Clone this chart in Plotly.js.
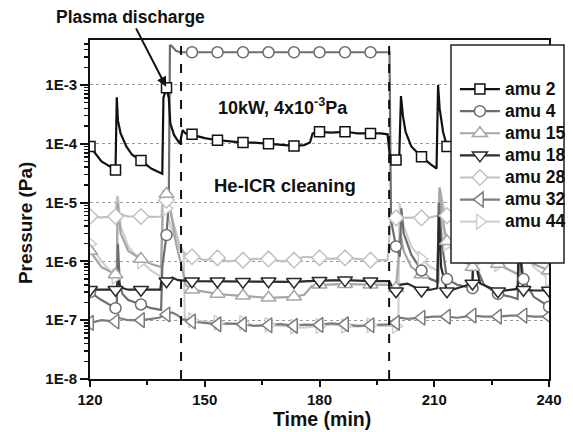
<!DOCTYPE html>
<html><head><meta charset="utf-8">
<script src="https://cdn.plot.ly/plotly-3.0.1.min.js"></script>
<style>html,body{margin:0;padding:0;background:#fff}</style>
</head><body><div id="chart" style="width:573px;height:432px"></div>
<script>
// ---------------- data ----------------
const markerTimes = [120, 126.67, 133.33, 140, 146.67, 153.33, 160, 166.67, 173.33, 180, 186.67, 193.33, 200, 206.67, 213.33, 220, 226.67, 233.33, 240];

const amu2Time = [120, 123, 126.67, 127.0, 127.3, 128, 129.5, 131, 133.33, 136, 138.9, 139.2, 140, 140.6, 141, 142, 143.5, 144.2, 145, 146.67, 148, 150, 153.33, 156, 160, 163, 166.67, 170, 173.33, 176, 177.5, 178.2, 180, 183, 186.67, 190, 193.33, 196, 197.8, 198.3, 199, 200, 200.8, 201.3, 201.8, 202.5, 204, 206.67, 209, 210.6, 211, 211.4, 212.3, 213.33, 216, 219.8, 220, 220.3, 220.9, 222, 226.67, 231.8, 232.2, 232.8, 233.33, 236, 240];
const amu2Pressure = [9e-5, 5e-5, 3.6e-5, 6.2e-4, 2.5e-4, 1.5e-4, 9e-5, 6.5e-5, 5.2e-5, 3.8e-5, 3.1e-5, 6e-4, 9e-4, 6e-4, 2.2e-4, 1.4e-4, 1e-4, 1.7e-4, 1.5e-4, 1.45e-4, 1.35e-4, 1.25e-4, 1.15e-4, 1.1e-4, 1.05e-4, 1.05e-4, 1e-4, 9.5e-5, 9.2e-5, 9.5e-5, 1.05e-4, 1.5e-4, 1.6e-4, 1.55e-4, 1.6e-4, 1.5e-4, 1.5e-4, 1.5e-4, 1.45e-4, 7e-5, 4.5e-5, 5.3e-5, 4.5e-5, 6.5e-4, 3e-4, 1.6e-4, 9e-5, 6e-5, 4.5e-5, 3.8e-5, 1e-3, 4e-4, 1.6e-4, 9e-5, 6e-5, 4e-5, 4e-5, 6e-4, 2e-4, 1e-4, 5e-5, 4e-5, 6e-4, 2e-4, 1.2e-4, 7e-5, 5e-5];

const amu4Time = [120, 123, 126.67, 127.0, 127.3, 127.8, 128.5, 130, 133.33, 136, 138.6, 138.9, 140, 140.6, 140.9, 141.5, 142.5, 143.5, 146.67, 153.33, 160, 166.67, 173.33, 180, 186.67, 193.33, 198.3, 198.7, 200, 201, 201.4, 202, 204, 206.67, 209, 210.8, 211.2, 212, 213.33, 216, 220, 220.3, 221, 223, 226.67, 230, 231.8, 232.2, 233.33, 236, 240];
const amu4Pressure = [3e-7, 2.2e-7, 1.6e-7, 1.6e-7, 2e-6, 4e-7, 2.8e-7, 2.2e-7, 1.85e-7, 1.6e-7, 1.5e-7, 8e-7, 2.8e-6, 1e-5, 4.8e-3, 4.5e-3, 3.8e-3,
  3.6e-3, 3.6e-3, 3.6e-3, 3.6e-3, 3.6e-3, 3.6e-3, 3.6e-3, 3.6e-3, 3.6e-3, 3.6e-3,
  5e-6, 1.8e-6, 1.2e-6, 8e-6, 3e-6, 1.3e-6, 7e-7, 5e-7, 4.5e-7, 1e-5, 2e-6, 5e-7, 4e-7, 3.5e-7, 3e-6, 8e-7, 4e-7, 2.8e-7, 2.5e-7, 2.3e-7, 2e-6, 5e-7, 2.5e-7, 1.7e-7];

const amu15Time = [120, 123, 126.67, 127.0, 127.2, 128, 130, 133.33, 136, 138.6, 139.2, 140, 141, 142.5, 144, 145, 146.67, 150, 153.33, 156, 160, 166.67, 173.33, 176, 178, 180, 186.67, 193.33, 198.3, 200, 201.2, 202, 204, 206.67, 209, 211.1, 211.4, 212.5, 213.33, 216, 220, 220.3, 221.5, 226.67, 232, 232.3, 233.33, 236, 240];
const amu15Pressure = [1.5e-6, 8e-7, 6e-7, 6e-7, 1e-5, 3e-6, 1.5e-6, 1.1e-6, 9e-7, 8e-7, 1.5e-5, 1.4e-5, 8e-6, 2e-6, 8e-7, 4e-7, 3.3e-7, 3e-7, 2.8e-7, 2.7e-7, 2.6e-7, 2.4e-7, 2.5e-7, 2.7e-7, 3.8e-7, 4e-7, 4.1e-7, 4e-7, 4e-7, 3.5e-7, 3e-6, 1.5e-6, 8e-7, 6e-7, 5e-7, 4.5e-7, 1.8e-5, 4e-6, 2.2e-6, 1.2e-6, 8e-7, 6e-6, 2e-6, 9e-7, 6e-7, 5e-6, 1.8e-6, 9e-7, 7e-7];

const amu18Time = [120, 123, 126.67, 127.0, 127.3, 128, 130, 133.33, 136, 138.4, 138.6, 140, 141.5, 143, 146.67, 150, 153.33, 160, 166.67, 173.33, 180, 183, 186.67, 193.33, 198.2, 199, 200, 201, 203, 206.67, 209, 210.8, 211.2, 211.8, 213.33, 216, 220, 220.4, 221, 222, 226.67, 231.8, 232.2, 232.8, 233.33, 236, 240];
const amu18Pressure = [3.3e-7, 3.3e-7, 3.3e-7, 3.4e-7, 5e-7, 3.6e-7, 3.3e-7, 3.3e-7, 3.3e-7, 3.3e-7, 4.4e-7, 4.6e-7, 5.3e-7, 4.8e-7, 4.6e-7, 4.6e-7, 4.6e-7, 4.5e-7, 4.6e-7, 4.5e-7, 4.7e-7, 4.8e-7, 4.8e-7, 4.6e-7, 4.6e-7, 3.7e-7, 3.1e-7, 4e-7, 4.2e-7, 3.2e-7, 3.3e-7, 3.5e-7, 6e-6, 8e-7, 3.1e-7, 3.5e-7, 4.2e-7, 5e-6, 8e-7, 4.2e-7, 3.1e-7, 3.4e-7, 4e-6, 7e-7, 3.3e-7, 3.2e-7, 3.2e-7];

const amu28Time = [120, 123, 126.67, 127.1, 127.6, 130, 133.33, 136, 138.7, 139.1, 140, 141, 142, 143.5, 145, 146.67, 150, 153.33, 156, 160, 163, 166.67, 170, 173.33, 176, 180, 183, 186.67, 190, 193.33, 197.8, 198.6, 200, 203, 206.67, 209, 211, 211.4, 212.5, 213.33, 216, 220, 220.3, 222, 226.67, 232, 232.3, 233.33, 236, 240];
const amu28Pressure = [5.8e-6, 5.6e-6, 5.8e-6, 1.3e-5, 6.5e-6, 5.8e-6, 5.8e-6, 5.7e-6, 5.8e-6, 1.6e-5, 1.1e-5, 7e-6, 4e-6, 1.8e-6, 1.3e-6, 1.2e-6, 1.05e-6, 1.15e-6, 1e-6, 1.05e-6, 1.1e-6, 1.1e-6, 1e-6, 1.05e-6, 1.2e-6, 1.15e-6, 1.1e-6, 1.15e-6, 1.1e-6, 1.05e-6, 1.05e-6, 5e-6, 5.5e-6, 5.5e-6, 5.5e-6, 5.6e-6, 6e-6, 1.8e-5, 8e-6, 6e-6, 4e-6, 2.5e-6, 8e-6, 3e-6, 1.8e-6, 1.4e-6, 5e-6, 2.2e-6, 1.6e-6, 1.2e-6];

const amu32Time = [120, 123, 126.67, 127.2, 130, 133.33, 136, 138, 140, 141.5, 143, 144, 146.67, 150, 153.33, 156, 160, 163, 166.67, 170, 173.33, 176, 180, 183, 186.67, 190, 193.33, 198, 200, 201, 203, 206.67, 210, 213.33, 216, 220, 223, 226.67, 230, 233.33, 236, 240];
const amu32Pressure = [9e-8, 1e-7, 9.5e-8, 1.1e-7, 1e-7, 1e-7, 1.05e-7, 1.1e-7, 1.25e-7, 1.35e-7, 1.2e-7, 1.05e-7, 9.5e-8, 9e-8, 8.5e-8, 8.8e-8, 8.5e-8, 8e-8, 8.2e-8, 8.6e-8, 8e-8, 8.4e-8, 8.3e-8, 8.8e-8, 8.5e-8, 8e-8, 8.2e-8, 8.5e-8, 9e-8, 1.1e-7, 1.05e-7, 1.1e-7, 1.15e-7, 1.15e-7, 1.1e-7, 1.2e-7, 1.15e-7, 1.15e-7, 1.2e-7, 1.2e-7, 1.15e-7, 1.15e-7];

const amu44Time = [120, 123, 126.67, 127.0, 127.3, 128, 130, 133.33, 136, 138.5, 139, 140, 141.5, 143.5, 144.5, 144.8, 146.67, 150, 153.33, 156, 160, 163, 166.67, 170, 173.33, 176, 180, 183, 186.67, 190, 193.33, 196, 200, 200.6, 200.9, 202, 204, 206.67, 209, 210.9, 211.3, 212.5, 213.33, 216, 220, 220.3, 221.5, 226.67, 231.8, 232.3, 233.33, 236, 240];
const amu44Pressure = [2e-6, 1e-6, 5.5e-7, 5e-7, 1.3e-5, 4e-6, 1.8e-6, 1e-6, 7e-7, 5.5e-7, 1.2e-5, 8e-6, 3e-6, 1.6e-6, 1.4e-6, 1.1e-7, 1e-7, 9.5e-8, 9e-8, 8.5e-8, 9e-8, 8e-8, 8.3e-8, 8e-8, 7.8e-8, 7.5e-8, 8e-8, 8.5e-8, 8e-8, 7.8e-8, 8.2e-8, 8e-8, 8e-8, 8e-8, 1e-5, 4e-6, 1.8e-6, 1.1e-6, 8e-7, 7e-7, 1.2e-5, 3e-6, 2e-6, 1.2e-6, 9e-7, 5e-6, 1.8e-6, 9e-7, 6e-7, 5e-6, 1.5e-6, 8e-7, 5e-7];

const seriesNames = ['amu 2', 'amu 4', 'amu 15', 'amu 18', 'amu 28', 'amu 32', 'amu 44'];
const xTickValues = [120, 150, 180, 210, 240];
const yTickValues = [1e-8, 1e-7, 1e-6, 1e-5, 1e-4, 1e-3];
const yTickLabels = ['1E-8', '1E-7', '1E-6', '1E-5', '1E-4', '1E-3'];
const phaseBounds = [143.8, 198.2];   // start / end of He-ICR cleaning (min)
const dischargeTime = 139.9, dischargePressure = 9.3e-4;

// ---------------- styling ----------------
const seriesData = {
  'amu 2': [amu2Time, amu2Pressure], 'amu 4': [amu4Time, amu4Pressure],
  'amu 15': [amu15Time, amu15Pressure], 'amu 18': [amu18Time, amu18Pressure],
  'amu 28': [amu28Time, amu28Pressure], 'amu 32': [amu32Time, amu32Pressure],
  'amu 44': [amu44Time, amu44Pressure]
};
const styles = {
  'amu 2':  {color: '#111111', symbol: 'square',         size: 10, width: 2.2},
  'amu 4':  {color: '#6e6e6e', symbol: 'circle',         size: 11, width: 2.2},
  'amu 15': {color: '#a6a6a6', symbol: 'triangle-up',    size: 13, width: 2.2},
  'amu 18': {color: '#2a2a2a', symbol: 'triangle-down',  size: 13, width: 2.2},
  'amu 28': {color: '#c2c2c2', symbol: 'diamond',        size: 12, width: 2.2},
  'amu 32': {color: '#7c7c7c', symbol: 'triangle-left',  size: 13, width: 2.2},
  'amu 44': {color: '#d0d0d0', symbol: 'triangle-right', size: 13, width: 2.2}
};
const drawOrder = ['amu 44', 'amu 28', 'amu 15', 'amu 32', 'amu 4', 'amu 18', 'amu 2'];

const lineTraces = [], markerTraces = [];
drawOrder.forEach(name => {
  const [t, p] = seriesData[name];
  const st = styles[name];
  lineTraces.push({
    x: t, y: p, mode: 'lines', type: 'scatter', showlegend: false,
    line: {color: st.color, width: st.width}, hoverinfo: 'skip'
  });
  const mx = [], my = [];
  markerTimes.forEach(m => {
    const i = t.findIndex(v => Math.abs(v - m) < 0.02);
    if (i >= 0) { mx.push(t[i], t[i]); my.push(p[i], null); }
  });
  markerTraces.push({
    x: mx, y: my, mode: 'lines+markers', type: 'scatter',
    name: '<span style="font-size:17.5px">' + name + '</span>',
    legendrank: seriesNames.indexOf(name) + 1, connectgaps: false,
    line: {color: st.color, width: st.width},
    marker: {symbol: st.symbol, size: st.size, color: '#ffffff', line: {color: st.color, width: 1.5}}
  });
});

const yMinor = [];
for (let d = -8; d <= -3; d++) for (let k = 2; k <= 9; k++) yMinor.push(k * Math.pow(10, d));
const xMinor = [];
for (let i = 0; i < xTickValues.length - 1; i++) xMinor.push((xTickValues[i] + xTickValues[i + 1]) / 2);

const boldFont = (size) => ({family: 'Liberation Sans, Arial, sans-serif', size: size, color: '#111', weight: 'bold'});

const layout = {
  width: 573, height: 432,
  margin: {l: 90, r: 24, t: 40, b: 53, autoexpand: false},
  paper_bgcolor: '#ffffff', plot_bgcolor: '#ffffff',
  font: {family: 'Liberation Sans, Arial, sans-serif', color: '#111'},
  showlegend: true,
  xaxis: {
    range: [120, 240], tickmode: 'array', tickvals: xTickValues,
    ticks: 'outside', ticklen: 6, tickwidth: 2, tickcolor: '#111',
    showline: true, linewidth: 2, linecolor: '#111', mirror: true,
    showgrid: false, zeroline: false, tickfont: boldFont(15),
    minor: {tickvals: xMinor, ticks: 'outside', ticklen: 4, tickwidth: 2, tickcolor: '#111', showgrid: false}
  },
  yaxis: {
    type: 'log', range: [-8, -2.235], tickmode: 'array', tickvals: yTickValues, ticktext: yTickLabels,
    ticks: 'outside', ticklen: 8, tickwidth: 2, tickcolor: '#111',
    showline: true, linewidth: 2, linecolor: '#111', mirror: true,
    showgrid: true, gridcolor: '#9a9a9a', griddash: 'dot', gridwidth: 1, zeroline: false,
    tickfont: boldFont(15),
    minor: {tickvals: yMinor, ticks: 'outside', ticklen: 4, tickwidth: 1.5, tickcolor: '#111', showgrid: false}
  },
  legend: {
    x: 0.795, y: 0.9027, xanchor: 'left', yanchor: 'top',
    bgcolor: 'rgba(0,0,0,0)', borderwidth: 0, itemwidth: 40,
    font: boldFont(14.7), traceorder: 'normal'
  },
  shapes: [
    {type: 'line', xref: 'x', yref: 'paper', x0: phaseBounds[0], x1: phaseBounds[0], y0: 0, y1: 1,
     line: {color: '#111', width: 2, dash: 'dash'}},
    {type: 'line', xref: 'x', yref: 'paper', x0: phaseBounds[1], x1: phaseBounds[1], y0: 0, y1: 1,
     line: {color: '#111', width: 2, dash: 'dash'}},
    {type: 'rect', xref: 'paper', yref: 'paper', x0: 0.7865, x1: 1.0327, y0: 0.342, y1: 0.985,
     fillcolor: '#ffffff', line: {color: '#222', width: 1.5}, layer: 'above'}
  ],
  annotations: [
    {text: 'Plasma discharge', xref: 'x', yref: 'y', x: dischargeTime, y: Math.log10(dischargePressure),
     showarrow: true, ax: -36, ay: -70, arrowhead: 2, arrowsize: 1, arrowwidth: 2, arrowcolor: '#111',
     font: boldFont(17.5)},
    {text: '10kW, 4x10<sup>-3</sup>Pa', xref: 'paper', yref: 'paper', x: 0.42, y: 0.843,
     showarrow: false, font: boldFont(18)},
    {text: 'He-ICR cleaning', xref: 'paper', yref: 'paper', x: 0.425, y: 0.572,
     showarrow: false, font: boldFont(18.5)},
    {text: 'Pressure (Pa)', xref: 'paper', yref: 'paper', x: -0.1416, y: 0.46, textangle: -90,
     xanchor: 'center', yanchor: 'middle', showarrow: false, font: boldFont(19)},
    {text: 'Time (min)', xref: 'paper', yref: 'paper', x: 0.5054, y: -0.118,
     xanchor: 'center', yanchor: 'middle', showarrow: false, font: boldFont(19.5)}
  ]
};

Plotly.newPlot('chart', lineTraces.concat(markerTraces), layout, {displayModeBar: false, staticPlot: true});
</script>
</body></html>
